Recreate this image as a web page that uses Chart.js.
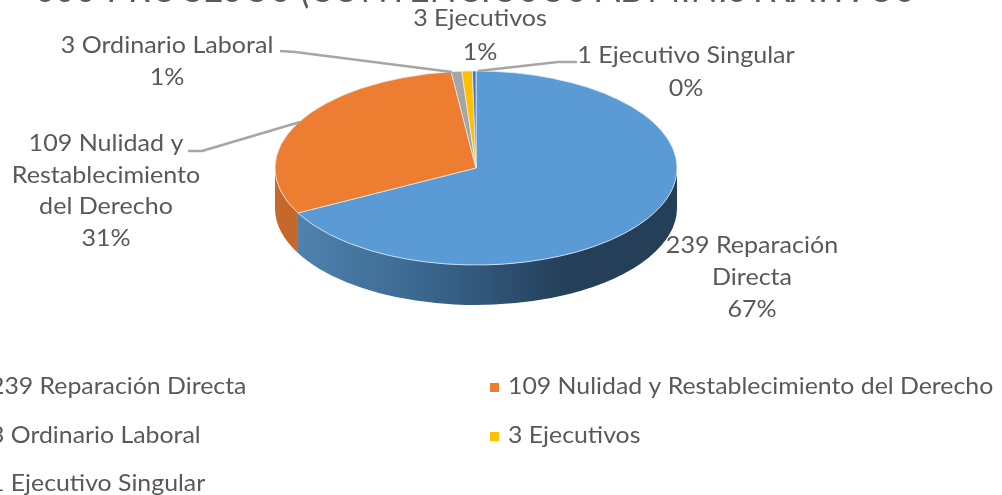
<!DOCTYPE html>
<html><head><meta charset="utf-8">
<style>html,body{margin:0;padding:0;background:#fff;overflow:hidden}#w{position:relative;width:1002px;height:495px}</style>
<script src="https://cdn.jsdelivr.net/npm/chart.js@4"></script></head>
<body><div id="w"><canvas id="c" width="1002" height="495"></canvas></div>
<script>
const categories=["239 Reparación Directa","109 Nulidad y Restablecimiento del Derecho","3 Ordinario Laboral","3 Ejecutivos","1 Ejecutivo Singular"];
const values=[239,109,3,3,1];
const colors=["#5b9bd5","#ed7d31","#a5a5a5","#ffc000","#4472c4"];
const titleText="355 PROCESOS (CONTENCIOSOS ADMINISTRATIVOS";
const percents=["67%","31%","1%","1%","0%"];
const FONT='Lato, "Open Sans", sans-serif', TXT="#595959";
const CX=476,CY=168,RX=201,RY=97,DEPTH=40;
function text(ctx,s,x,y,size,align,sx){
 ctx.save();ctx.translate(x,y);ctx.scale(sx||1.045,1);
 ctx.font=size+"px "+FONT;ctx.textAlign=align||"center";ctx.textBaseline="alphabetic";ctx.fillStyle=TXT;ctx.fillText(s,0,0);ctx.restore();}
const pie3d={id:"pie3d",
 beforeDatasetsDraw(chart){
  const ctx=chart.ctx,arcs=chart.getDatasetMeta(0).data;
  arcs.forEach((a,i)=>{
   const s=Math.max(a.startAngle,0),e=Math.min(a.endAngle,Math.PI);
   const s2=Math.max(a.startAngle,Math.PI*2),e2=Math.min(a.endAngle,Math.PI*3);
   [[s,e],[s2,e2]].forEach(([p,q])=>{
    if(q<=p)return;
    ctx.beginPath();
    ctx.ellipse(CX,CY,RX,RY,0,p,q);
    ctx.ellipse(CX,CY+DEPTH,RX,RY,0,q,p,true);
    ctx.closePath();
    if(i===0){const g=ctx.createLinearGradient(298,0,678,0);
     g.addColorStop(0,"#4f82ae");g.addColorStop(.3,"#3c6a92");g.addColorStop(.6,"#2a4a6a");g.addColorStop(.72,"#243f57");g.addColorStop(1,"#243f57");ctx.fillStyle=g;}
    else ctx.fillStyle="#c4682b";
    ctx.fill();
   });
  });
  const p=arcs[0];
  ctx.save();
  ctx.translate(CX,CY);ctx.scale(1,RY/RX);ctx.translate(-p.x,-p.y);
 },
 afterDatasetsDraw(chart){
  const ctx=chart.ctx;ctx.restore();
  // title, clipped by the top edge
  ctx.font="47px "+FONT;
  const tw=ctx.measureText(titleText).width;
  text(ctx,titleText,475,2,47,"center",880/tw);
  // leader lines
  ctx.strokeStyle="#a6a6a6";ctx.lineWidth=2.5;ctx.lineJoin="round";
  [[[280,51],[295,52],[452,72]],[[577,62],[558,62],[478,71]],[[188,151],[202,151],[300,122]]].forEach(l=>{
   ctx.beginPath();l.forEach((pt,i)=>i?ctx.lineTo(pt[0],pt[1]):ctx.moveTo(pt[0],pt[1]));ctx.stroke();});
  // data labels
  const S=24;
  text(ctx,"3 Ejecutivos",480,26,S);text(ctx,percents[3],480,60,S);
  text(ctx,"3 Ordinario Laboral",167,53,S);text(ctx,percents[2],167,85,S);
  text(ctx,"1 Ejecutivo Singular",686,63,S);text(ctx,percents[4],686,96,S);
  text(ctx,"109 Nulidad y",106,151,S);text(ctx,"Restablecimiento",106,183,S);text(ctx,"del Derecho",106,214,S);text(ctx,percents[1],106,246,S);
  text(ctx,"239 Reparación",752,253,S);text(ctx,"Directa",752,285,S);text(ctx,percents[0],752,317,S);
  // legend
  const pos=[[-28,394],[490,394],[-28,443],[490,443],[-28,491]];
  categories.forEach((c,i)=>{const [x,y]=pos[i];
   ctx.fillStyle=colors[i];ctx.fillRect(x,y-11,9,9);
   text(ctx,c,x+18,y,S-1,"left",1.08);});
 }};
new Chart(document.getElementById("c"),{type:"pie",
 data:{labels:categories,datasets:[{data:values,backgroundColor:colors,borderColor:"#e8eef4",borderWidth:1,borderAlign:"center"}]},
 options:{responsive:false,animation:false,radius:RX,rotation:0,
  plugins:{legend:{display:false},title:{display:false},tooltip:{enabled:false}}},
 plugins:[pie3d]});
</script></body></html>
